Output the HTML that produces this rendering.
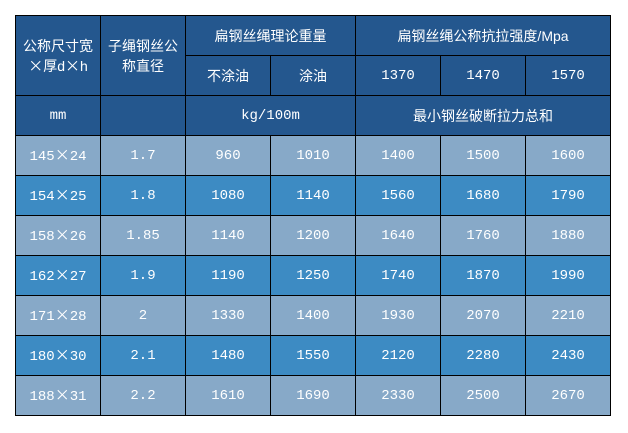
<!DOCTYPE html>
<html><head><meta charset="utf-8"><style>
body{margin:0;width:628px;height:433px;background:#fff;position:relative;overflow:hidden;font-family:"Liberation Sans","Noto Sans CJK SC",sans-serif;}
.c{position:absolute;box-sizing:border-box;border:1px solid #000;color:#fff;display:flex;align-items:center;justify-content:center;text-align:center;font-size:14px;line-height:20px;}
.h{background:#24578e;}
.a{background:#87a9c8;}
.b{background:#3d8bc3;}
.m{font-family:"Liberation Mono","Noto Sans CJK SC",monospace;font-size:14px;}
.x{font-family:"Noto Sans CJK SC",sans-serif;font-size:15px;}
</style></head><body>
<div class="c h" style="left:15px;top:15px;width:86px;height:81px"><div>公称尺寸宽<br><span class="x">×</span>厚d<span class="x">×</span>h</div></div>
<div class="c h" style="left:100px;top:15px;width:86px;height:81px"><div>子绳钢丝公<br>称直径</div></div>
<div class="c h" style="left:185px;top:15px;width:171px;height:41px">扁钢丝绳理论重量</div>
<div class="c h" style="left:355px;top:15px;width:256px;height:41px">扁钢丝绳公称抗拉强度/Mpa</div>
<div class="c h" style="left:185px;top:55px;width:86px;height:41px">不涂油</div>
<div class="c h" style="left:270px;top:55px;width:86px;height:41px">涂油</div>
<div class="c h m" style="left:355px;top:55px;width:86px;height:41px">1370</div>
<div class="c h m" style="left:440px;top:55px;width:86px;height:41px">1470</div>
<div class="c h m" style="left:525px;top:55px;width:86px;height:41px">1570</div>
<div class="c h m" style="left:15px;top:95px;width:86px;height:41px">mm</div>
<div class="c h" style="left:100px;top:95px;width:86px;height:41px"></div>
<div class="c h m" style="left:185px;top:95px;width:171px;height:41px">kg/100m</div>
<div class="c h" style="left:355px;top:95px;width:256px;height:41px">最小钢丝破断拉力总和</div>
<div id="rows"></div>
<script>
var d=[["145×24","1.7","960","1010","1400","1500","1600"],["154×25","1.8","1080","1140","1560","1680","1790"],["158×26","1.85","1140","1200","1640","1760","1880"],["162×27","1.9","1190","1250","1740","1870","1990"],["171×28","2","1330","1400","1930","2070","2210"],["180×30","2.1","1480","1550","2120","2280","2430"],["188×31","2.2","1610","1690","2330","2500","2670"]];
var h="";d.forEach(function(r,i){r.forEach(function(v,j){v=v.replace("×",'<span class="x">×</span>');h+='<div class="c m '+(i%2?'b':'a')+'" style="left:'+(15+85*j)+'px;top:'+(135+40*i)+'px;width:86px;height:41px"><div>'+v+'</div></div>';});});
document.getElementById("rows").innerHTML=h;
</script>
</body></html>
